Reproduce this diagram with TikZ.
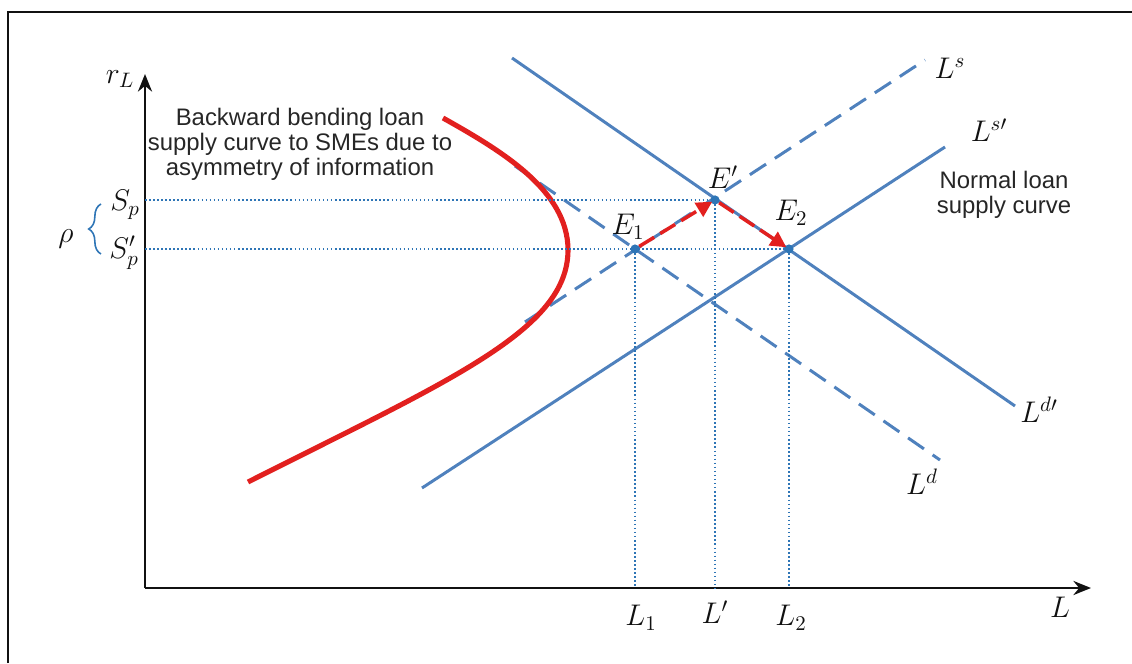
\RequirePackage{fix-cm}
\documentclass[tikz,border=0pt]{standalone}
\usepackage{amsmath}
\usepackage{fontspec}
\usepackage{xcolor}
\usetikzlibrary{arrows.meta,positioning,decorations.pathreplacing}
\newfontfamily\notefont{Liberation Sans}
\definecolor{ink}{HTML}{111111}
\definecolor{notegray}{HTML}{262626}
\definecolor{lineblue}{HTML}{4F81BD}
\definecolor{dotblue}{HTML}{2E75B6}
\definecolor{bendred}{HTML}{E2201F}
\tikzset{
  frameline/.style={draw=ink, line width=1.1pt},
  axisline/.style={draw=ink, line width=1.4pt, -{Stealth[length=10pt,width=8pt]}},
  curveline/.style={draw=lineblue, line width=1.7pt},
  shiftline/.style={curveline, dash pattern=on 11pt off 6pt},
  bendcurve/.style={draw=bendred, line width=2.9pt},
  movearrow/.style={draw=bendred, line width=2pt, dash pattern=on 10pt off 4pt,
    -{Triangle[length=9pt,width=9pt]}, shorten >=-1pt},
  guideline/.style={draw=dotblue, line width=0.7pt, dash pattern=on 0.9pt off 1.4pt},
  eqpoint/.style={circle, fill=dotblue, inner sep=0pt, minimum size=5.2pt},
  mathlabel/.style={text=ink, inner sep=1pt, font=\fontsize{17}{19}\selectfont},
  notelabel/.style={text=notegray, align=center, inner sep=1pt,
    font=\notefont\fontsize{13.6}{14.3}\selectfont},
  ratebrace/.style={draw=dotblue, line width=0.9pt, decorate, decoration={brace, amplitude=7pt}}
}

\begin{document}
\begin{tikzpicture}[x=0.02cm, y=0.02cm]
  \useasboundingbox (0,0) rectangle (1132,663);
  \draw[frameline] (8,0) -- (8,651) -- (1132,651);

  % axes
  \coordinate (O) at (145,75);
  \coordinate (ytip) at (145,589);
  \coordinate (xtip) at (1091,75);
  \draw[axisline] (O) -- (ytip);
  \draw[axisline] (O) -- (xtip);
  \node[mathlabel] (rlab) at (120,584) {$r_L$};
  \node[mathlabel] (llab) at (1060,56) {$L$};

  % supply and demand lines
  \coordinate (ls-a) at (525,341);   \coordinate (ls-b) at (925,603);
  \coordinate (lsp-a) at (422,175);  \coordinate (lsp-b) at (945,516);
  \coordinate (ld-a) at (515,497);   \coordinate (ld-b) at (940,203);
  \coordinate (ldp-a) at (512,605);  \coordinate (ldp-b) at (1015,257);
  \draw[shiftline] (ls-a) -- (ls-b);
  \draw[curveline] (lsp-a) -- (lsp-b);
  \draw[shiftline] (ld-a) -- (ld-b);
  \draw[curveline] (ldp-a) -- (ldp-b);
  \node[mathlabel] (lslab) at (950,595) {$L^{s}$};
  \node[mathlabel] (lsplab) at (989,533) {$L^{s\prime}$};
  \node[mathlabel] (ldlab) at (922,181) {$L^{d}$};
  \node[mathlabel] (ldplab) at (1039,253) {$L^{d\prime}$};

  % backward bending supply
  \draw[bendcurve] (248,181) .. controls (450,283) and (568,333) .. (568,413)
    .. controls (568,473) and (500,513) .. (443,545);

  % equilibria
  \coordinate (E1) at (635,414);
  \coordinate (Ep) at (715,463);
  \coordinate (E2) at (789,414);
  \draw[guideline] (O |- Ep) -- (Ep);
  \draw[guideline] (O |- E2) -- (E2);
  \draw[guideline] (E1) -- (E1 |- O);
  \draw[guideline] (Ep) -- (Ep |- O);
  \draw[guideline] (E2) -- (E2 |- O);
  \node[eqpoint] (e1) at (E1) {};
  \node[eqpoint] (ep) at (Ep) {};
  \node[eqpoint] (e2) at (E2) {};
  \draw[movearrow] (e1) -- (ep);
  \draw[movearrow] (ep) -- (e2);
  \node[mathlabel] (e1lab) at (628,436) {$E_1$};
  \node[mathlabel] (eplab) at (723,486) {$E'$};
  \node[mathlabel] (e2lab) at (791,450) {$E_2$};

  % axis labels
  \node[mathlabel] (sp) at (125,458) {$S_p$};
  \node[mathlabel] (spp) at (124,410) {$S'_p$};
  \draw[ratebrace] (101,409) -- (101,459);
  \node[mathlabel] (rho) at (66,424) {$\rho$};
  \node[mathlabel] (l1) at (641,45) {$L_1$};
  \node[mathlabel] (lp) at (715,51) {$L'$};
  \node[mathlabel] (l2) at (791,45) {$L_2$};

  % notes
  \node[notelabel] (bendnote) at (300,519) {Backward bending loan\\supply curve to SMEs due to\\asymmetry of information};
  \node[notelabel] (normnote) at (1004,468) {Normal loan\\supply curve};
\end{tikzpicture}
\end{document}
